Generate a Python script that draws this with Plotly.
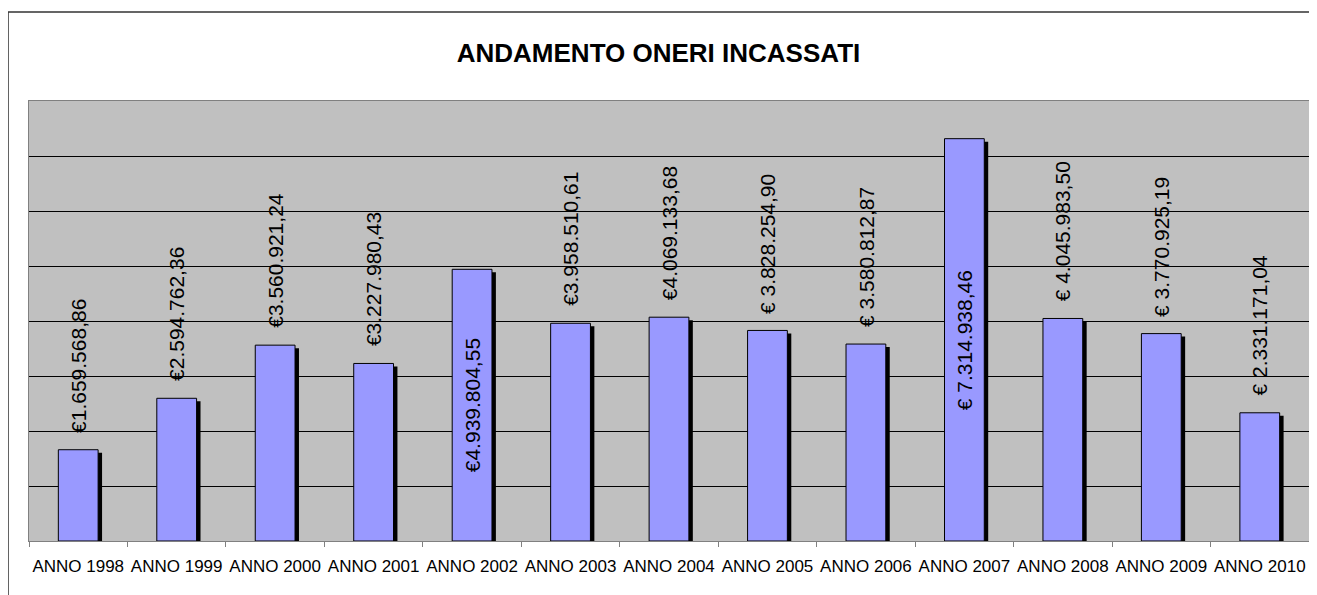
import plotly.graph_objects as go

FONT = "Arial, Liberation Sans, sans-serif"

anni = ["ANNO 1998", "ANNO 1999", "ANNO 2000", "ANNO 2001", "ANNO 2002",
        "ANNO 2003", "ANNO 2004", "ANNO 2005", "ANNO 2006", "ANNO 2007",
        "ANNO 2008", "ANNO 2009", "ANNO 2010"]
oneri = [1659568.86, 2594762.36, 3560921.24, 3227980.43, 4939804.55,
         3958510.61, 4069133.68, 3828254.90, 3580812.87, 7314938.46,
         4045983.50, 3770925.19, 2331171.04]
etichette = ["€1.659.568,86", "€2.594.762,36", "€3.560.921,24", "€3.227.980,43",
             "€4.939.804,55", "€3.958.510,61", "€4.069.133,68", "€ 3.828.254,90",
             "€ 3.580.812,87", "€ 7.314.938,46", "€ 4.045.983,50", "€ 3.770.925,19",
             "€ 2.331.171,04"]
# where Excel put the data label
dentro = [False, False, False, False, True, False, False, False, False, True,
          False, False, False]

BAR_W = 0.404
fig = go.Figure()

# drop shadow, shifted a few px right and down
fig.add_trace(go.Bar(x=anni, y=oneri, base=-54500, width=BAR_W, offset=-BAR_W / 2 + 0.04,
                     marker=dict(color="black", line=dict(width=0)),
                     hoverinfo="skip", showlegend=False))
fig.add_trace(go.Bar(x=anni, y=oneri, width=BAR_W,
                     marker=dict(color="#9999FF", line=dict(color="black", width=1)),
                     hovertemplate="%{x}: %{y:,.2f}<extra></extra>", showlegend=False))

for a, v, t, d in zip(anni, oneri, etichette, dentro):
    if d:
        fig.add_annotation(x=a, y=v / 2, text=t, textangle=-90, showarrow=False,
                           xanchor="center", yanchor="middle",
                           font=dict(family=FONT, size=21, color="black"))
    else:
        fig.add_annotation(x=a, y=v, text=t, textangle=-90, showarrow=False,
                           xanchor="center", yanchor="bottom", yshift=15,
                           font=dict(family=FONT, size=21, color="black"))

# outer chart border (cut by the page at right and bottom)
fig.add_shape(type="rect", xref="paper", yref="paper", x0=-0.0164, x1=1.05, y0=-0.3, y1=1.2023,
              line=dict(color="#333333", width=1.5), layer="above")

# page body adds 8px around, so the figure is shrunk to fit the window
fig.update_layout(
    width=1301, height=587,
    barmode="overlay",
    paper_bgcolor="white", plot_bgcolor="#C0C0C0",
    margin=dict(l=21, r=0, t=93, b=54, autoexpand=False),
    title=dict(text="<b>ANDAMENTO ONERI INCASSATI</b>", x=0.5, xanchor="center",
               y=1 - 45 / 587, yanchor="middle",
               font=dict(family=FONT, size=26, color="black")),
    font=dict(family=FONT, color="black"),
)
fig.update_xaxes(showline=True, linecolor="#808080", linewidth=1, mirror=True,
                 ticks="outside", tickson="boundaries", ticklen=5, tickcolor="#808080",
                 tickangle=0, automargin=False, ticklabelstandoff=10,
                 tickfont=dict(family=FONT, size=17, color="black"), showgrid=False)
fig.update_yaxes(range=[0, 8000000], dtick=1000000, showticklabels=False,
                 showgrid=True, gridcolor="black", gridwidth=1, zeroline=False,
                 showline=True, linecolor="#808080", linewidth=1, mirror=True)

fig.write_html("out.html")
